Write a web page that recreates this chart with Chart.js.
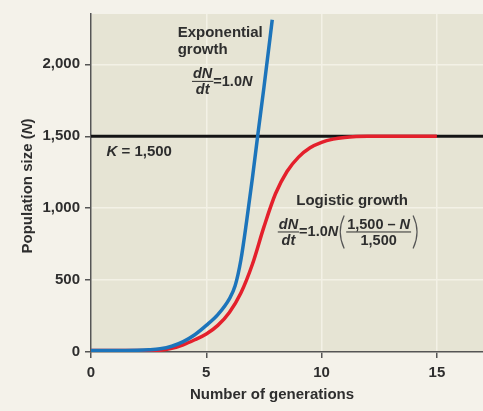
<!DOCTYPE html>
<html>
<head>
<meta charset="utf-8">
<script src="https://cdn.jsdelivr.net/npm/chart.js@4.4.1/dist/chart.umd.min.js"></script>
<style>
    html, body { margin: 0; padding: 0; background: #f4f2ea; }
    #wrap { width: 483px; height: 411px; }
</style>
</head>
<body>
<div id="wrap"><canvas id="growthChart" width="483" height="411"></canvas></div>
<script>
// values
const expGen = [0, 1, 2, 2.5, 3, 3.5, 4, 4.5, 5, 5.5, 6, 6.25, 6.5, 6.75, 7, 7.25, 7.5, 7.86];
const expN = [10, 10, 12, 15, 22, 40, 72, 120, 185, 260, 370, 460, 640, 910, 1210, 1530, 1840, 2310];

const logGen = [0, 1, 2, 2.5, 3, 3.5, 4, 4.5, 5, 5.5, 6, 6.5, 7, 7.5, 8, 8.5, 9, 9.5, 10, 10.5, 11, 11.5, 12, 13, 14, 15];
const logN = [10, 10, 10, 10, 12, 25, 50, 85, 125, 185, 275, 410, 610, 870, 1100, 1255, 1355, 1420, 1458, 1480, 1492, 1498, 1500, 1500, 1500, 1500];

const kGen = [0, 17];
const kN = [1500, 1500];

const xTicks = [0, 5, 10, 15];
const yTicks = [0, 500, 1000, 1500, 2000];

const FONT = '"Liberation Sans", Arial, sans-serif';
const TEXT = '#2e2e2e';

function pts(xs, ys) {
    return xs.map((x, i) => ({ x: x, y: ys[i] }));
}

function fnt(size, italic) {
    return (italic ? 'italic ' : '') + 'bold ' + size + 'px ' + FONT;
}

// draws a run of [text, italic] pieces, returns width
function rich(ctx, parts, x, y, size, align) {
    let w = 0;
    parts.forEach(p => { ctx.font = fnt(size, p[1]); w += ctx.measureText(p[0]).width; });
    let cx = x;
    if (align === 'center') cx = x - w / 2;
    if (align === 'right') cx = x - w;
    ctx.textAlign = 'left';
    parts.forEach(p => {
        ctx.font = fnt(size, p[1]);
        ctx.fillText(p[0], cx, y);
        cx += ctx.measureText(p[0]).width;
    });
    return w;
}

function frac(ctx, num, den, x, bar, size) {
    let wn = 0, wd = 0;
    num.forEach(p => { ctx.font = fnt(size, p[1]); wn += ctx.measureText(p[0]).width; });
    den.forEach(p => { ctx.font = fnt(size, p[1]); wd += ctx.measureText(p[0]).width; });
    const w = Math.max(wn, wd) + 2;
    const mid = x + w / 2;
    rich(ctx, num, mid, bar - 2.5, size, 'center');
    rich(ctx, den, mid, bar + size * 0.72 + 3, size, 'center');
    ctx.save();
    ctx.strokeStyle = TEXT;
    ctx.lineWidth = 1;
    ctx.beginPath();
    ctx.moveTo(x, bar + 0.5);
    ctx.lineTo(x + w, bar + 0.5);
    ctx.stroke();
    ctx.restore();
    return w;
}

function paren(ctx, x, top, bottom, open) {
    const h = bottom - top;
    ctx.save();
    ctx.strokeStyle = '#555';
    ctx.lineWidth = 1.2;
    ctx.beginPath();
    ctx.moveTo(x, top);
    ctx.quadraticCurveTo(open ? x - h * 0.24 : x + h * 0.24, top + h / 2, x, bottom);
    ctx.stroke();
    ctx.restore();
}

const backdrop = {
    id: 'backdrop',
    beforeDraw(chart) {
        const { ctx, chartArea: a } = chart;
        ctx.save();
        ctx.fillStyle = '#f4f2ea';
        ctx.fillRect(0, 0, chart.width, chart.height);
        ctx.fillStyle = '#e6e4d4';
        ctx.fillRect(a.left, a.top, a.right - a.left, a.bottom - a.top);
        ctx.restore();
    }
};

const labels = {
    id: 'labels',
    afterDraw(chart) {
        const ctx = chart.ctx;
        const xs = chart.scales.x, ys = chart.scales.y;
        const X = v => xs.getPixelForValue(v);
        const Y = v => ys.getPixelForValue(v);
        ctx.save();
        ctx.fillStyle = TEXT;
        ctx.textBaseline = 'alphabetic';

        // axis titles
        rich(ctx, [['Number of generations', false]], X(7.85), 399, 15, 'center');
        ctx.save();
        ctx.translate(32, (chart.chartArea.top + chart.chartArea.bottom) / 2 + 3);
        ctx.rotate(-Math.PI / 2);
        rich(ctx, [['Population size (', false], ['N', true], [')', false]], 0, 0, 15, 'center');
        ctx.restore();

        // exponential label
        rich(ctx, [['Exponential', false]], X(3.76), Y(2193), 15, 'left');
        rich(ctx, [['growth', false]], X(3.76), Y(2075), 15, 'left');
        let x0 = X(4.38);
        let w = frac(ctx, [['dN', true]], [['dt', true]], x0, Y(1885), 14.5);
        rich(ctx, [['=1.0', false], ['N', true]], x0 + w, Y(1885) + 5, 14.5, 'left');

        // carrying capacity
        rich(ctx, [['K', true], [' = 1,500', false]], X(0.67), Y(1365), 15, 'left');

        // logistic label
        rich(ctx, [['Logistic growth', false]], X(8.9), Y(1023), 15, 'left');
        x0 = X(8.1);
        const bar = Y(838);
        w = frac(ctx, [['dN', true]], [['dt', true]], x0, bar, 14.5);
        let cx = x0 + w;
        cx += rich(ctx, [['=1.0', false], ['N', true]], cx, bar + 5, 14.5, 'left');
        paren(ctx, cx + 6, bar - 16, bar + 17, true);
        cx += 8;
        w = frac(ctx, [['1,500 \u2013 ', false], ['N', true]], [['1,500', false]], cx, bar, 14.5);
        paren(ctx, cx + w + 2, bar - 16, bar + 17, false);
        ctx.restore();
    }
};

const ctx = document.getElementById('growthChart').getContext('2d');
Chart.defaults.font.family = FONT;

new Chart(ctx, {
    type: 'line',
    data: {
        datasets: [{
            label: 'Exponential growth',
            data: pts(expGen, expN),
            borderColor: '#1c74bb',
            borderWidth: 3.5,
            pointRadius: 0,
            cubicInterpolationMode: 'monotone',
            order: 1
        }, {
            label: 'Logistic growth',
            data: pts(logGen, logN),
            borderColor: '#e4202c',
            borderWidth: 3.5,
            pointRadius: 0,
            cubicInterpolationMode: 'monotone',
            order: 2
        }, {
            label: 'K',
            data: pts(kGen, kN),
            borderColor: '#141414',
            borderWidth: 3,
            pointRadius: 0,
            order: 3
        }]
    },
    options: {
        responsive: false,
        animation: false,
        layout: { padding: { top: 8, right: 0, left: 0, bottom: 0 } },
        plugins: { legend: { display: false }, tooltip: { enabled: false } },
        scales: {
            x: {
                type: 'linear',
                min: 0,
                max: 17,
                afterBuildTicks: s => { s.ticks = xTicks.map(v => ({ value: v })); },
                afterFit: s => { s.height = 59; },
                ticks: { color: TEXT, font: { size: 15, weight: 'bold' }, padding: 6, maxRotation: 0 },
                grid: { color: '#f3f1e6', lineWidth: 1.5, tickColor: '#555', tickLength: 6 },
                border: { color: '#555', width: 1.5 }
            },
            y: {
                type: 'linear',
                min: 0,
                max: 2350,
                afterBuildTicks: s => { s.ticks = yTicks.map(v => ({ value: v })); },
                afterFit: s => { s.width = 91; },
                ticks: {
                    color: TEXT,
                    font: { size: 15, weight: 'bold' },
                    padding: 5,
                    callback: v => v.toLocaleString('en-US')
                },
                grid: { color: '#f3f1e6', lineWidth: 1.5, tickColor: '#555', tickLength: 6 },
                border: { color: '#555', width: 1.5 }
            }
        }
    },
    plugins: [backdrop, labels]
});
</script>
</body>
</html>
